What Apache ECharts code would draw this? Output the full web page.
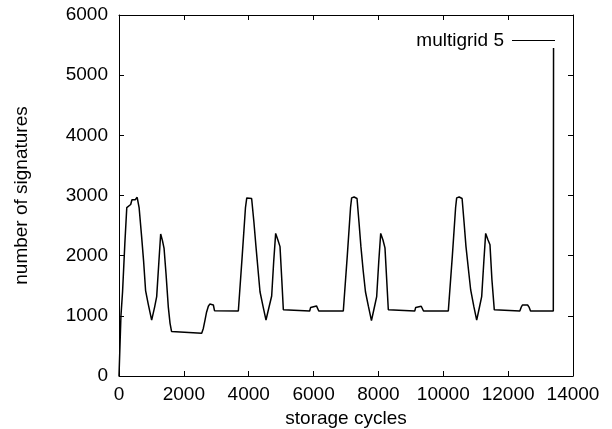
<!DOCTYPE html>
<html>
<head>
<meta charset="utf-8">
<script src="https://cdn.jsdelivr.net/npm/echarts@6/dist/echarts.min.js"></script>
<style>html,body{margin:0;padding:0;background:#fff}#c{width:612px;height:429px}</style>
</head>
<body>
<div id="c"></div>
<script>
var seriesName = 'multigrid 5';
var xTicks = [0, 2000, 4000, 6000, 8000, 10000, 12000, 14000];
var yTicks = [0, 1000, 2000, 3000, 4000, 5000, 6000];
var cycles = [
  0, 60, 110, 180, 240, 300, 360, 400, 450, 500, 560, 620, 700, 760, 820, 900, 1007, 1100, 1162, 1230, 1285, 1340, 1390, 1450, 1520, 1573, 1620, 1660, 2550, 2600, 2652, 2700, 2755, 2800, 2860, 2910, 2935, 2945,
  3680, 3800, 3900, 3940, 4000, 4090, 4160, 4224, 4290, 4348, 4440, 4533, 4620, 4708, 4770, 4831, 4900, 4965, 5020, 5068, 5100, 5880, 5910, 5950, 6090, 6130, 6160,
  6917, 7040, 7140, 7174, 7250, 7340, 7400, 7460, 7530, 7600, 7690, 7785, 7870, 7946, 8010, 8070, 8140, 8202, 8255, 8305, 8340, 9120, 9150, 9190, 9320, 9360, 9390,
  10155, 10280, 10380, 10413, 10490, 10580, 10640, 10700, 10780, 10845, 10940, 11030, 11110, 11184, 11250, 11307, 11380, 11440, 11500, 11573, 11600, 12360, 12400, 12440, 12600, 12650, 12690, 13393, 13400
];
var signatures = [
  0, 1000, 1400, 2200, 2800, 2830, 2850, 2930, 2960, 2930, 2970, 2800, 2300, 1900, 1420, 1200, 930, 1150, 1320, 1900, 2360, 2250, 2120, 1700, 1150, 880, 740, 710, 710, 790, 930, 1060, 1160, 1195, 1200, 1180, 1165, 1085,
  1080, 2000, 2800, 2960, 2975, 2950, 2560, 2150, 1750, 1400, 1160, 930, 1130, 1330, 1900, 2370, 2260, 2150, 1600, 1100, 1080, 1080, 1140, 1165, 1165, 1140, 1080,
  1080, 2000, 2800, 2960, 2975, 2950, 2560, 2150, 1750, 1400, 1160, 920, 1130, 1320, 1900, 2370, 2260, 2130, 1600, 1100, 1080, 1080, 1140, 1160, 1160, 1140, 1080,
  1080, 2000, 2800, 2960, 2975, 2950, 2560, 2150, 1750, 1430, 1160, 930, 1130, 1320, 1900, 2370, 2260, 2180, 1600, 1100, 1080, 1080, 1140, 1180, 1180, 1140, 1080, 1080, 5450
];

var pts = cycles.map(function (c, i) { return [c, signatures[i]]; });
var FONT = 'Liberation Sans';
var FS = 19;
var chart = echarts.init(document.getElementById('c'), null, {renderer: 'canvas'});
function axisBase(isX, pos, showLabel, ticks) {
  return {
    type: 'value', position: pos,
    min: ticks[0], max: ticks[ticks.length - 1], interval: ticks[1] - ticks[0],
    axisLine: {show: true, onZero: false, lineStyle: {color: '#000', width: 1}},
    axisTick: {show: true, inside: true, length: 5, lineStyle: {color: '#000', width: 1}},
    axisLabel: {show: showLabel, color: '#000', fontFamily: FONT, fontSize: FS, margin: isX ? 9 : 11,
      formatter: function (v) { return String(v); }},
    splitLine: {show: false}
  };
}
var x0 = axisBase(true, 'bottom', true, xTicks);
x0.name = 'storage cycles'; x0.nameLocation = 'middle'; x0.nameGap = 28;
x0.nameTextStyle = {color: '#000', fontFamily: FONT, fontSize: FS};
var y0 = axisBase(false, 'left', true, yTicks);
y0.name = 'number of signatures'; y0.nameLocation = 'middle'; y0.nameGap = 88;
y0.nameTextStyle = {color: '#000', fontFamily: FONT, fontSize: FS};
var x1 = axisBase(true, 'top', false, xTicks);
var y1 = axisBase(false, 'right', false, yTicks);

chart.setOption({
  animation: false,
  backgroundColor: '#fff',
  grid: {left: 119, right: 39, top: 15, bottom: 53, containLabel: false, outerBoundsMode: 'none'},
  legend: {
    show: true, right: 52, top: 26, align: 'right', itemGap: 0,
    itemWidth: 43, itemHeight: 1,
    textStyle: {color: '#000', fontFamily: FONT, fontSize: FS, padding: [0, 3, 0, 0]},
    data: [{name: seriesName, icon: 'rect'}]
  },
  xAxis: [x0, x1],
  yAxis: [y0, y1],
  series: [{
    name: seriesName, type: 'line', xAxisIndex: 0, yAxisIndex: 0,
    data: pts, showSymbol: false, symbol: 'none',
    lineStyle: {color: '#000', width: 1.5},
    itemStyle: {color: '#000'}
  }]
});
</script>
</body>
</html>
